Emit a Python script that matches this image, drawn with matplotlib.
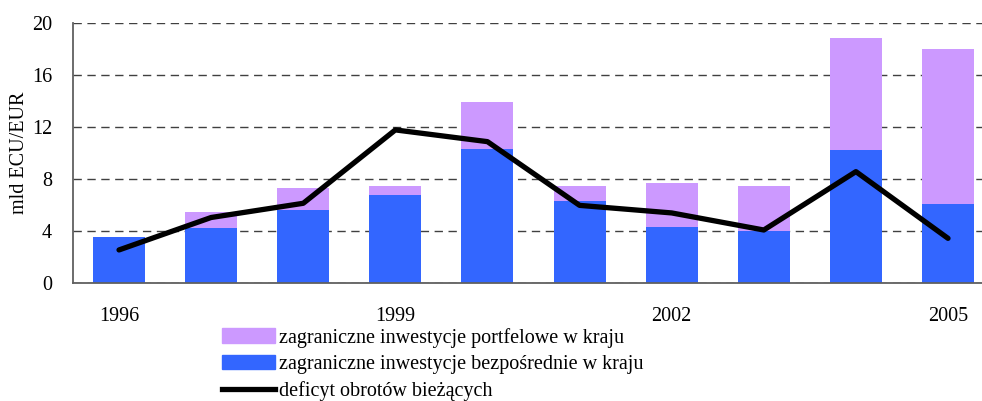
import matplotlib.pyplot as plt
from matplotlib.lines import Line2D
from matplotlib.patches import Patch

years = ['1996', '1997', '1998', '1999', '2000', '2001', '2002', '2003', '2004', '2005']
fdi = [3.55, 4.27, 5.65, 6.78, 10.31, 6.32, 4.32, 4.01, 10.23, 6.09]
portfolio_total = [3.55, 5.47, 7.34, 7.49, 13.91, 7.47, 7.70, 7.47, 18.83, 17.98]
deficit = [2.56, 5.05, 6.14, 11.77, 10.87, 5.98, 5.4, 4.09, 8.57, 3.45]
shown_years = ['1996', '1999', '2002', '2005']

portfolio = [t - f for t, f in zip(portfolio_total, fdi)]

plt.rcParams['font.family'] = ['Liberation Serif', 'DejaVu Serif']
plt.rcParams['font.size'] = 14.5

fig = plt.figure(figsize=(9.82, 4.01), dpi=100)
ax = fig.add_axes([0.0743, 0.2935, 0.938, 0.65])

x = range(len(years))
ax.bar(x, fdi, width=0.565, color='#3366FF', zorder=2)
ax.bar(x, portfolio, width=0.565, bottom=fdi, color='#CC99FF', zorder=2)
ax.plot(x, deficit, color='black', linewidth=3.8, solid_capstyle='round', zorder=3)

ax.set_xlim(-0.5, 9.5)
ax.set_ylim(0, 20)
ax.set_yticks([0, 4, 8, 12, 16, 20])
ax.set_xticks([years.index(y) for y in shown_years])
ax.set_xticklabels(shown_years)
ax.tick_params(axis='both', length=0)
ax.tick_params(axis='x', pad=17)
ax.tick_params(axis='y', pad=15)
ax.set_ylabel('mld ECU/EUR', labelpad=2)

ax.grid(axis='y', color='#404040', linestyle=(0, (6, 4)), linewidth=1.0, zorder=1)
ax.set_axisbelow(True)
for s in ['top', 'right']:
    ax.spines[s].set_visible(False)
for s in ['left', 'bottom']:
    ax.spines[s].set_color('#606060')
    ax.spines[s].set_linewidth(1.3)

handles = [
    Patch(color='#CC99FF', label='zagraniczne inwestycje portfelowe w kraju'),
    Patch(color='#3366FF', label='zagraniczne inwestycje bezpośrednie w kraju'),
    Line2D([], [], color='black', linewidth=3.8, label='deficyt obrotów bieżących'),
]
fig.legend(handles=handles, loc='upper left', bbox_to_anchor=(0.226, 0.183),
           frameon=False, handlelength=2.65, handletextpad=0.2, labelspacing=0.36,
           borderpad=0, borderaxespad=0, fontsize=14.5)

fig.savefig('out.png', dpi=100)
